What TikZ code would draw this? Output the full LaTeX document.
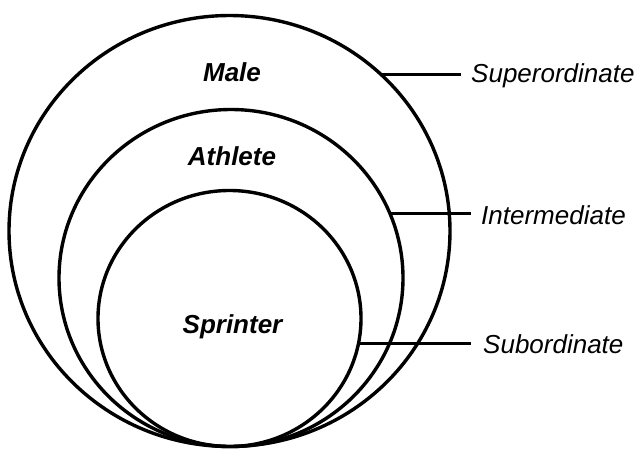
\documentclass[tikz,border=0pt]{standalone}
\usepackage{fontspec}
\setmainfont{Liberation Sans}
\usetikzlibrary{shapes.geometric}
\begin{document}
\begin{tikzpicture}[x=1pt,y=-1pt,
  ring/.style={ellipse,draw,line width=3.4pt,inner sep=0pt,outer sep=0pt},
  inlabel/.style={font=\fontsize{26}{30}\selectfont\bfseries\itshape,anchor=base,inner sep=0pt},
  sidelabel/.style={font=\fontsize{26}{30}\selectfont\itshape,anchor=base west,inner sep=0pt},
  leader/.style={line width=2.8pt}]
\useasboundingbox (0,0) rectangle (640,448);
\node[ring,minimum width=441pt,minimum height=431pt] (outer) at (229.5,231) {};
\node[ring,minimum width=344pt,minimum height=337pt] (middle) at (231,278) {};
\node[ring,minimum width=263pt,minimum height=256pt] (inner) at (229.5,318.5) {};
\node[inlabel] (male) at (232,81) {Male};
\node[inlabel] (athlete) at (232,165) {Athlete};
\node[inlabel] (sprinter) at (232.5,333) {Sprinter};
\node[sidelabel] (super) at (471,82) {Superordinate};
\node[sidelabel] (inter) at (481,224) {Intermediate};
\node[sidelabel] (sub) at (483,353) {Subordinate};
\coordinate (superend) at (461,72);
\coordinate (interend) at (471,214);
\coordinate (subend) at (471,345);
\draw[leader] (outer.46.7) -- (outer.46.7 -| superend);
\draw[leader] (middle.22.2) -- (middle.22.2 -| interend);
\draw[leader] (inner.-11.4) -- (inner.-11.4 -| subend);
\end{tikzpicture}
\end{document}
